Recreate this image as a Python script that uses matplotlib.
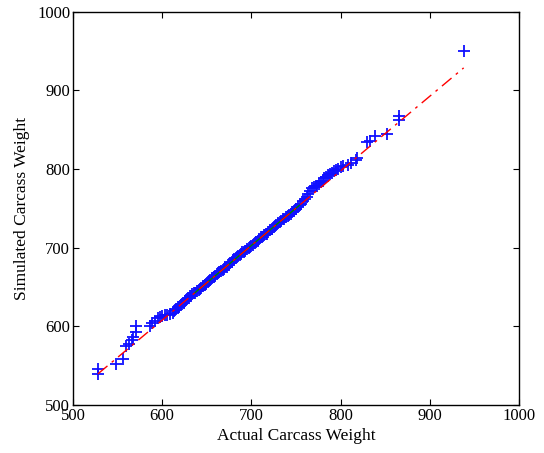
import numpy as np
import matplotlib
matplotlib.use('Agg')
import matplotlib.pyplot as plt

# sorted samples
actual = [528, 528, 548, 556, 559, 563, 566, 567, 571, 571, 586, 589, 592, 595, 598,
          600, 603, 606, 609,
          612, 613, 615, 616, 618, 619, 621, 622, 624, 626, 627, 629, 631, 632, 634,
          636, 637, 639, 641, 643, 644, 646, 648, 649, 651, 653, 654, 656, 658, 659,
          661, 663, 664, 666, 668, 669, 671, 673, 675, 676, 678, 680, 681, 683, 685,
          687, 688, 690, 692, 693, 695, 697, 699, 700, 702, 704, 705, 707, 709, 711,
          712, 714, 716, 718, 719, 721, 723, 725, 726, 728, 730, 732, 733, 735, 737,
          739, 741, 742, 744, 746, 748, 750, 752, 754, 756, 758, 760, 762, 764, 766,
          768, 770, 772, 774, 776, 778, 780, 782, 784, 786, 788, 790, 793, 795, 797,
          800, 803, 808, 812, 817, 818, 830, 833, 839, 852, 865, 866, 938]
simulated = [539, 546, 552, 558, 575, 578, 582, 587, 593, 600, 600, 604, 607, 610, 612,
             613, 614, 615, 616,
             617, 619, 621, 622, 624, 625, 627, 628, 630, 632, 633, 636, 638, 639, 641,
             642, 643, 645, 646, 648, 649, 651, 653, 654, 656, 658, 659, 661, 663, 664,
             666, 668, 669, 671, 672, 673, 675, 676, 678, 680, 682, 684, 685, 687, 689,
             691, 692, 694, 695, 696, 698, 699, 701, 702, 704, 706, 707, 709, 711, 713,
             714, 716, 717, 718, 720, 722, 724, 726, 727, 729, 731, 733, 734, 736, 737,
             739, 740, 741, 743, 745, 747, 749, 752, 754, 756, 759, 762, 765, 768, 772,
             776, 777, 778, 779, 781, 783, 785, 788, 790, 792, 794, 795, 797, 799, 800,
             802, 804, 805, 808, 811, 814, 834, 836, 842, 845, 863, 867, 950]

x = np.array(actual, dtype=float)
y = np.array(simulated, dtype=float)

# reference line through the quartiles, like matlab's qqplot
q1x, q3x = np.percentile(x, [25, 75])
q1y, q3y = np.percentile(y, [25, 75])
slope = (q3y - q1y) / (q3x - q1x)
cx = (q1x + q3x) / 2
cy = (q1y + q3y) / 2

plt.rcParams['font.family'] = ['Liberation Serif', 'DejaVu Serif']

fig = plt.figure(figsize=(5.44, 4.53), dpi=100)
ax = fig.add_axes([0.134, 0.106, 0.820, 0.868])

ax.plot(x, y, '+', color='#1010ff', markersize=9, markeredgewidth=1.3, zorder=2)

xs = np.array([q1x, q3x])
ax.plot(xs, cy + slope * (xs - cx), '-', color='#008000', lw=1.0, zorder=3)
xe = np.array([x.min(), x.max()])
ax.plot(xe, cy + slope * (xe - cx), color='#ff0000', lw=1.0, zorder=4,
        dashes=[9, 4, 2, 4])

ax.set_xlim(500, 1000)
ax.set_ylim(500, 1000)
ax.set_xticks(np.arange(500, 1001, 100))
ax.set_yticks(np.arange(500, 1001, 100))
ax.tick_params(direction='in', top=True, right=True, length=4, width=0.8,
               labelsize=12, pad=2)
for s in ax.spines.values():
    s.set_linewidth(1.0)

ax.set_xlabel('Actual Carcass Weight', fontsize=12.5, labelpad=3)
ax.set_ylabel('Simulated Carcass Weight', fontsize=12.5, labelpad=5)

fig.savefig('out.png', dpi=100)
